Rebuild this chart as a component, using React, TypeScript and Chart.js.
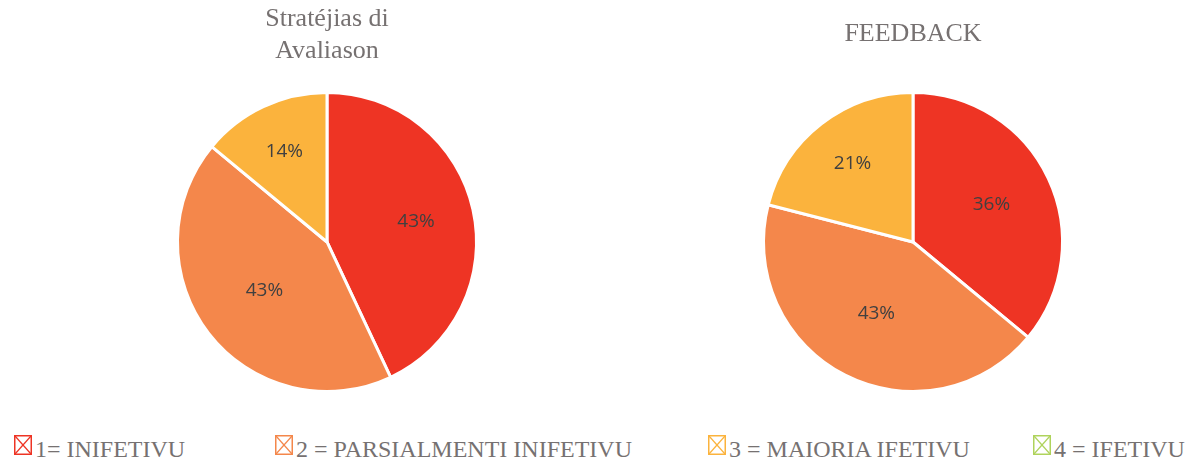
import React, { useEffect, useRef } from "react";
import { Chart, registerables } from "chart.js";

Chart.register(...registerables);

const categories = ["1= INIFETIVU", "2 = PARSIALMENTI INIFETIVU", "3 = MAIORIA IFETIVU", "4 = IFETIVU"];
const sliceColors = ["#EE3424", "#F4874B", "#FBB33D", "#AFD35C"];
const strategiesValues = [43, 43, 14, 0];
const feedbackValues = [36, 43, 21, 0];
const strategiesTitle = ["Stratéjias di", "Avaliason"];
const feedbackTitle = ["FEEDBACK"];

const labelPlugin = {
  id: "sliceLabels",
  afterDatasetsDraw(chart: any) {
    const ctx = chart.ctx;
    const meta = chart.getDatasetMeta(0);
    const values = chart.data.datasets[0].data as number[];
    const factors: number[] = chart.options.plugins.sliceLabels?.factors || [];
    ctx.save();
    ctx.font = '19px "Open Sans", sans-serif';
    ctx.fillStyle = "#404040";
    ctx.textAlign = "center";
    ctx.textBaseline = "middle";
    meta.data.forEach((arc: any, i: number) => {
      if (!values[i]) return;
      const p = arc.getProps(["x", "y", "startAngle", "endAngle", "outerRadius"], true);
      const mid = (p.startAngle + p.endAngle) / 2;
      const r = p.outerRadius * (factors[i] ?? 0.6);
      ctx.fillText(values[i] + "%", p.x + Math.cos(mid) * r, p.y + Math.sin(mid) * r);
    });
    ctx.restore();
  },
};

function PieChart({ values, title, titlePadding, factors }: { values: number[]; title: string[]; titlePadding: { top: number; bottom: number }; factors: number[] }) {
  const ref = useRef<HTMLCanvasElement>(null);
  useEffect(() => {
    if (!ref.current) return;
    const chart = new Chart(ref.current, {
      type: "pie",
      data: {
        labels: categories,
        datasets: [
          {
            data: values,
            backgroundColor: sliceColors,
            borderColor: "#FFFFFF",
            borderWidth: 3,
          },
        ],
      },
      options: {
        responsive: false,
        animation: false,
        layout: { padding: { top: 0, bottom: 32, left: 0, right: 0 } },
        plugins: {
          legend: { display: false },
          tooltip: { enabled: false },
          title: {
            display: true,
            text: title,
            color: "#767171",
            font: { family: '"Liberation Serif", "Times New Roman", serif', size: 26, weight: "normal", lineHeight: 1.23 },
            padding: titlePadding,
          },
          sliceLabels: { factors },
        } as any,
      },
      plugins: [labelPlugin],
    });
    return () => chart.destroy();
  }, []);
  return <canvas ref={ref} width={552} height={425} style={{ width: 552, height: 425, display: "block" }} />;
}

function LegendIcon({ color }: { color: string }) {
  return (
    <svg width={18} height={20} style={{ position: "absolute", left: 0, top: 0 }}>
      <rect x={0.75} y={0.75} width={16.5} height={18.5} fill="none" stroke={color} strokeWidth={1.5} />
      <line x1={1} y1={1} x2={17} y2={19} stroke={color} strokeWidth={1.2} />
      <line x1={17} y1={1} x2={1} y2={19} stroke={color} strokeWidth={1.2} />
    </svg>
  );
}

const legendLeft = [14, 275, 708, 1033];

export default function App() {
  return (
    <div style={{ position: "absolute", left: 0, top: 0, width: 1189, height: 462, background: "#FFFFFF", overflow: "hidden" }}>
      <div style={{ position: "absolute", left: 51, top: 0 }}>
        <PieChart values={strategiesValues} title={strategiesTitle} titlePadding={{ top: 3, bottom: 24 }} factors={[0.61, 0.53, 0.67]} />
      </div>
      <div style={{ position: "absolute", left: 637, top: 0 }}>
        <PieChart values={feedbackValues} title={feedbackTitle} titlePadding={{ top: 18, bottom: 41 }} factors={[0.58, 0.54, 0.66]} />
      </div>
      {categories.map((c, i) => (
        <div key={c} style={{ position: "absolute", left: legendLeft[i], top: 435, height: 20, whiteSpace: "nowrap" }}>
          <LegendIcon color={sliceColors[i]} />
          <span style={{ position: "absolute", left: 21, top: 2, fontFamily: '"Liberation Serif", "Times New Roman", serif', fontSize: 24, color: "#767171", lineHeight: "24px" }}>{c}</span>
        </div>
      ))}
    </div>
  );
}
